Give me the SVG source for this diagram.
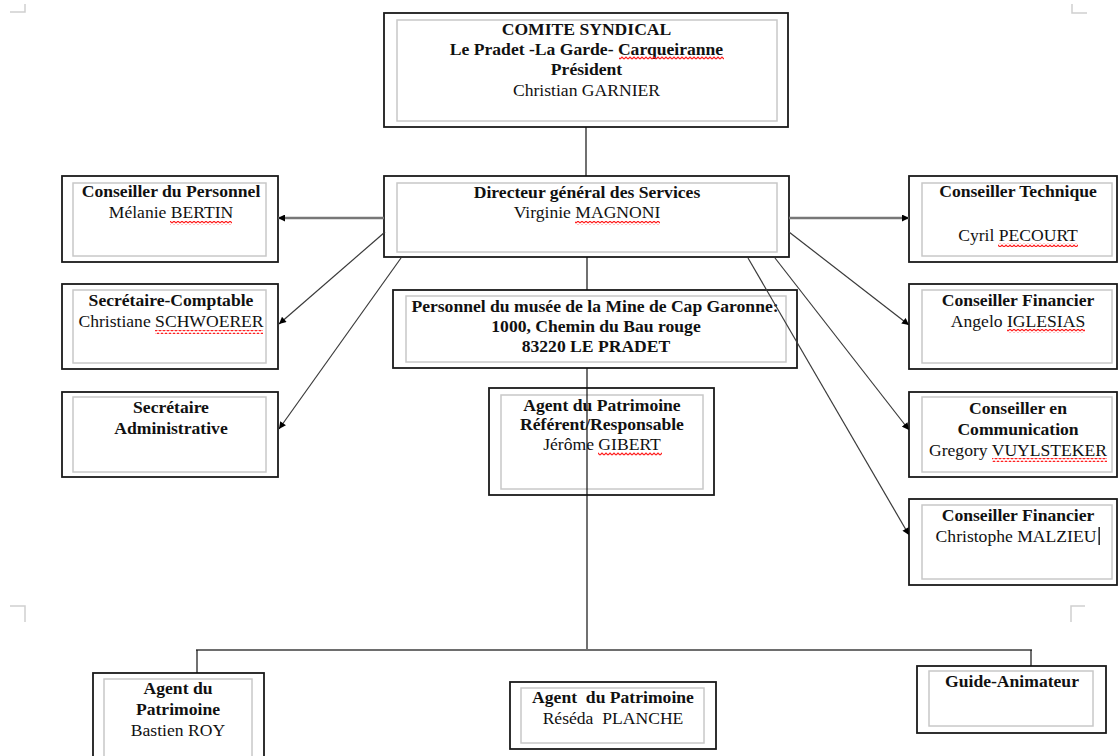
<svg xmlns="http://www.w3.org/2000/svg" width="1118" height="756" viewBox="0 0 1118 756">
<defs>
<style>
.ob{fill:#fff;stroke:#1a1a1a;stroke-width:1.8}
.ib{fill:none;stroke:#c8c8c8;stroke-width:1.5}
.t{font-family:"Liberation Serif","Times New Roman",serif;font-size:17.6px;fill:#111;text-anchor:middle;white-space:pre}
.b{font-weight:bold}
.ln{stroke:#111;stroke-width:1.2;fill:none}
.gl{stroke:#6e6e6e;stroke-width:2.2;fill:none}
.ar{stroke:#3a3a3a;stroke-width:1.2;fill:none;marker-end:url(#ah)}
.arh{stroke:#777;stroke-width:2.4;fill:none;marker-end:url(#ah)}
.crn{stroke:#d0d0d0;stroke-width:1.5;fill:none}
.sq{fill:url(#wave)}
</style>
<marker id="ah" viewBox="0 0 10 10" refX="10" refY="5" markerWidth="8" markerHeight="7" markerUnits="userSpaceOnUse" orient="auto">
<path d="M0,0 L10,5 L0,10 z" fill="#000"/>
</marker>
<pattern id="wave" width="4" height="4" patternUnits="userSpaceOnUse">
<path d="M0,3 L2,1 L4,3" stroke="#ff1a1a" stroke-width="1.2" fill="none"/>
</pattern>
</defs>
<rect width="1118" height="756" fill="#fff"/>

<g id="corners">
<path class="crn" d="M10,12 H25 V4"/>
<path class="crn" d="M1072,4 V13 H1087"/>
<path class="crn" d="M10,606 H25 V622"/>
<path class="crn" d="M1071,622 V606 H1085"/>
</g>

<g id="node-comite">
<rect class="ob" x="384" y="13" width="404" height="114"/>
<rect class="ib" x="397" y="20" width="380" height="101"/>
<text class="t b" x="586.5" y="35">COMITE SYNDICAL</text>
<text class="t b" x="586.5" y="55">Le Pradet -La Garde- Carqueiranne</text>
<text class="t b" x="586.5" y="75">Président</text>
<text class="t" x="586.5" y="95.5">Christian GARNIER</text>
<rect class="sq" x="619" y="56" width="105" height="4"/>
</g>

<g id="node-directeur">
<rect class="ob" x="384" y="176" width="405" height="81"/>
<rect class="ib" x="397" y="183" width="380" height="69"/>
<text class="t b" x="587" y="197.5">Directeur général des Services</text>
<text class="t" x="587" y="218">Virginie MAGNONI</text>
<rect class="sq" x="575" y="221" width="85" height="4"/>
</g>

<g id="node-personnel-musee">
<rect class="ob" x="393" y="290" width="404" height="78"/>
<rect class="ib" x="406" y="296" width="380" height="66"/>
<text class="t b" x="595" y="312">Personnel du musée de la Mine de Cap Garonne:</text>
<text class="t b" x="596" y="332">1000, Chemin du Bau rouge</text>
<text class="t b" x="596" y="352">83220 LE PRADET</text>
</g>

<g id="node-referent">
<rect class="ob" x="489" y="388" width="225" height="107"/>
<rect class="ib" x="501" y="395" width="202" height="94"/>
<text class="t b" x="602" y="411">Agent du Patrimoine</text>
<text class="t b" x="602" y="430">Référent/Responsable</text>
<text class="t" x="602" y="450">Jérôme GIBERT</text>
<rect class="sq" x="598" y="452" width="64" height="4"/>
</g>

<g id="node-conseiller-personnel">
<rect class="ob" x="62" y="176" width="216" height="86"/>
<rect class="ib" x="73" y="183" width="193" height="73"/>
<text class="t b" x="171" y="197">Conseiller du Personnel</text>
<text class="t" x="171" y="218">Mélanie BERTIN</text>
<rect class="sq" x="170" y="221" width="62" height="4"/>
</g>

<g id="node-secretaire-comptable">
<rect class="ob" x="62" y="284" width="216" height="85"/>
<rect class="ib" x="73" y="290" width="193" height="73"/>
<text class="t b" x="171" y="306">Secrétaire-Comptable</text>
<text class="t" x="171" y="327">Christiane SCHWOERER</text>
<rect class="sq" x="155" y="330" width="108" height="4"/>
</g>

<g id="node-secretaire-admin">
<rect class="ob" x="62" y="392" width="216" height="85"/>
<rect class="ib" x="73" y="397" width="193" height="75"/>
<text class="t b" x="171" y="413">Secrétaire</text>
<text class="t b" x="171" y="434">Administrative</text>
</g>

<g id="node-conseiller-technique">
<rect class="ob" x="909" y="176" width="208" height="86"/>
<rect class="ib" x="922" y="183" width="190" height="73"/>
<text class="t b" x="1018" y="197">Conseiller Technique</text>
<text class="t" x="1018" y="241">Cyril PECOURT</text>
<rect class="sq" x="998" y="243" width="80" height="4"/>
</g>

<g id="node-conseiller-financier-1">
<rect class="ob" x="909" y="284" width="208" height="85"/>
<rect class="ib" x="922" y="290" width="190" height="73"/>
<text class="t b" x="1018" y="306">Conseiller Financier</text>
<text class="t" x="1018" y="327">Angelo IGLESIAS</text>
<rect class="sq" x="1007" y="329" width="78" height="4"/>
</g>

<g id="node-conseiller-communication">
<rect class="ob" x="909" y="392" width="208" height="85"/>
<rect class="ib" x="922" y="397" width="190" height="75"/>
<text class="t b" x="1018" y="414">Conseiller en</text>
<text class="t b" x="1018" y="435">Communication</text>
<text class="t" x="1018" y="456">Gregory VUYLSTEKER</text>
<rect class="sq" x="992" y="458" width="115" height="4"/>
</g>

<g id="node-conseiller-financier-2">
<rect class="ob" x="909" y="499" width="208" height="86"/>
<rect class="ib" x="922" y="505" width="190" height="74"/>
<text class="t b" x="1018" y="521">Conseiller Financier</text>
<text class="t" x="1016" y="542">Christophe MALZIEU</text>
<rect x="1098.5" y="527" width="1.3" height="18" fill="#000"/>
</g>

<g id="node-agent-roy">
<rect class="ob" x="93" y="673" width="171" height="100"/>
<rect class="ib" x="104" y="679" width="148" height="100"/>
<text class="t b" x="178" y="694">Agent du</text>
<text class="t b" x="178" y="715">Patrimoine</text>
<text class="t" x="178" y="736">Bastien ROY</text>
</g>

<g id="node-agent-planche">
<rect class="ob" x="510" y="682" width="206" height="67"/>
<rect class="ib" x="521" y="688" width="183" height="55"/>
<text class="t b" x="613" y="703">Agent  du Patrimoine</text>
<text class="t" x="613" y="724">Réséda  PLANCHE</text>
</g>

<g id="node-guide">
<rect class="ob" x="917" y="666" width="189" height="67"/>
<rect class="ib" x="929" y="671" width="164" height="55"/>
<text class="t b" x="1012" y="687">Guide-Animateur</text>
</g>

<g id="connectors">
<line class="ln" x1="586" y1="127" x2="586" y2="176"/>
<line class="ln" x1="587" y1="257" x2="587" y2="290"/>
<line class="ln" x1="587" y1="368" x2="587" y2="650"/>
<line class="gl" x1="196" y1="650" x2="1032" y2="650"/>
<line class="ln" x1="197" y1="650" x2="197" y2="673"/>
<line class="ln" x1="1031" y1="650" x2="1031" y2="666"/>
<line class="arh" x1="384" y1="218" x2="278" y2="218"/>
<line class="ar" x1="385" y1="232" x2="279" y2="324"/>
<line class="ar" x1="401" y1="258" x2="279" y2="429"/>
<line class="arh" x1="789" y1="218" x2="909" y2="218"/>
<line class="ar" x1="789" y1="232" x2="909" y2="325"/>
<line class="ar" x1="775" y1="258" x2="909" y2="430"/>
<line class="ar" x1="748" y1="258" x2="909" y2="535"/>
</g>
</svg>
